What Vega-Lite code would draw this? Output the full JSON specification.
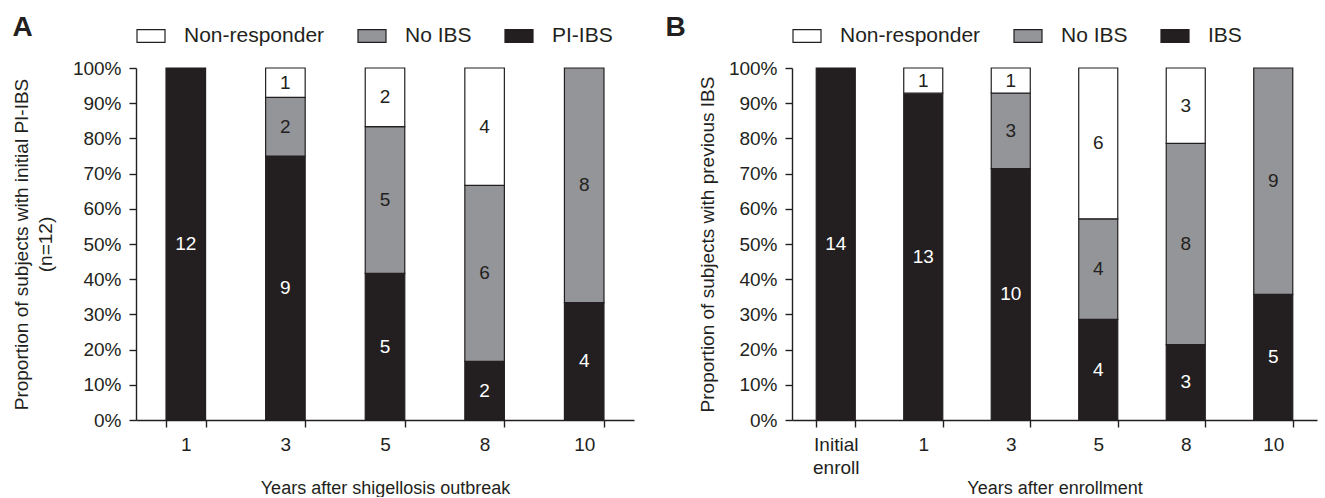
{
  "$schema": "https://vega.github.io/schema/vega-lite/v6.json",
  "background": "white",
  "padding": {"left": 12, "top": 14, "right": 5, "bottom": 0},
  "config": {
    "font": "Liberation Sans",
    "view": {"stroke": null},
    "axis": {
      "labelFont": "Liberation Sans",
      "titleFont": "Liberation Sans",
      "labelFontSize": 19,
      "titleFontSize": 19,
      "titleFontWeight": "normal",
      "labelColor": "#231f20",
      "titleColor": "#231f20",
      "domainColor": "#231f20",
      "tickColor": "#231f20",
      "domainWidth": 1.4,
      "tickWidth": 1.4,
      "tickSize": 7,
      "labelPadding": 8,
      "labelOverlap": false,
      "grid": false
    },
    "legend": {
      "labelFont": "Liberation Sans",
      "labelFontSize": 21,
      "labelColor": "#231f20",
      "symbolType": "M-1,-0.46H1V0.46H-1Z",
      "symbolSize": 784,
      "symbolStrokeColor": "#231f20",
      "symbolStrokeWidth": 1.2,
      "symbolOpacity": 1,
      "labelOffset": 18,
      "columnPadding": 30,
      "padding": 0,
      "title": null
    },
    "title": {
      "fontSize": 28,
      "fontWeight": "bold",
      "font": "Liberation Sans",
      "anchor": "start",
      "frame": "bounds",
      "color": "#231f20",
      "offset": -21
    }
  },
  "datasets": {
    "A": [
      {"year": "1", "status": "PI-IBS", "n": 12, "rank": 1},
      {"year": "3", "status": "PI-IBS", "n": 9, "rank": 1},
      {"year": "3", "status": "No IBS", "n": 2, "rank": 2},
      {"year": "3", "status": "Non-responder", "n": 1, "rank": 3},
      {"year": "5", "status": "PI-IBS", "n": 5, "rank": 1},
      {"year": "5", "status": "No IBS", "n": 5, "rank": 2},
      {"year": "5", "status": "Non-responder", "n": 2, "rank": 3},
      {"year": "8", "status": "PI-IBS", "n": 2, "rank": 1},
      {"year": "8", "status": "No IBS", "n": 6, "rank": 2},
      {"year": "8", "status": "Non-responder", "n": 4, "rank": 3},
      {"year": "10", "status": "PI-IBS", "n": 4, "rank": 1},
      {"year": "10", "status": "No IBS", "n": 8, "rank": 2}
    ],
    "B": [
      {"year": "Initial enroll", "status": "IBS", "n": 14, "rank": 1},
      {"year": "1", "status": "IBS", "n": 13, "rank": 1},
      {"year": "1", "status": "Non-responder", "n": 1, "rank": 3},
      {"year": "3", "status": "IBS", "n": 10, "rank": 1},
      {"year": "3", "status": "No IBS", "n": 3, "rank": 2},
      {"year": "3", "status": "Non-responder", "n": 1, "rank": 3},
      {"year": "5", "status": "IBS", "n": 4, "rank": 1},
      {"year": "5", "status": "No IBS", "n": 4, "rank": 2},
      {"year": "5", "status": "Non-responder", "n": 6, "rank": 3},
      {"year": "8", "status": "IBS", "n": 3, "rank": 1},
      {"year": "8", "status": "No IBS", "n": 8, "rank": 2},
      {"year": "8", "status": "Non-responder", "n": 3, "rank": 3},
      {"year": "10", "status": "IBS", "n": 5, "rank": 1},
      {"year": "10", "status": "No IBS", "n": 9, "rank": 2}
    ]
  },
  "resolve": {"scale": {"color": "independent", "x": "independent", "y": "independent"}, "legend": {"color": "independent"}},
  "spacing": 31,
  "hconcat": [
    {
      "title": {"text": "A"},
      "width": 498,
      "height": 352,
      "data": {"name": "A"},
      "transform": [
        {"stack": "n", "groupby": ["year"], "sort": [{"field": "rank"}], "offset": "normalize", "as": ["y0", "y1"]},
        {"calculate": "(datum.y0 + datum.y1) / 2", "as": "ymid"}
      ],
      "layer": [
        {
          "mark": {"type": "bar", "stroke": "#231f20", "strokeWidth": 1.2},
          "encoding": {
            "x": {
              "field": "year", "type": "ordinal", "sort": ["1", "3", "5", "8", "10"],
              "scale": {"paddingInner": 0.603, "paddingOuter": 0.3015},
              "axis": {"title": "Years after shigellosis outbreak", "titleFontSize": 18, "labelAngle": 0, "tickBand": "extent", "titlePadding": 25}
            },
            "y": {
              "field": "y0", "type": "quantitative", "scale": {"domain": [0, 1]},
              "axis": {"title": ["Proportion of subjects with initial PI-IBS", "(n=12)"], "titleLineHeight": 24, "format": ".0%", "values": [0, 0.1, 0.2, 0.3, 0.4, 0.5, 0.6, 0.7, 0.8, 0.9, 1], "tickCount": 30, "labelOverlap": false, "titlePadding": 17}
            },
            "y2": {"field": "y1"},
            "color": {
              "field": "status", "type": "nominal",
              "scale": {"domain": ["Non-responder", "No IBS", "PI-IBS"], "range": ["#ffffff", "#939598", "#231f20"]},
              "legend": {"orient": "top", "direction": "horizontal", "offset": 22}
            }
          }
        },
        {
          "mark": {"type": "text", "fontSize": 19, "font": "Liberation Sans"},
          "encoding": {
            "x": {
              "field": "year", "type": "ordinal", "sort": ["1", "3", "5", "8", "10"],
              "axis": {"title": "Years after shigellosis outbreak", "titleFontSize": 18, "labelAngle": 0, "tickBand": "extent", "titlePadding": 25}
            },
            "y": {
              "field": "ymid", "type": "quantitative",
              "axis": {"title": ["Proportion of subjects with initial PI-IBS", "(n=12)"], "titleLineHeight": 24, "format": ".0%", "values": [0, 0.1, 0.2, 0.3, 0.4, 0.5, 0.6, 0.7, 0.8, 0.9, 1], "tickCount": 30, "labelOverlap": false, "titlePadding": 17}
            },
            "text": {"field": "n"},
            "color": {"condition": {"test": "datum.rank == 1", "value": "#ffffff"}, "value": "#231f20"}
          }
        }
      ]
    },
    {
      "title": {"text": "B", "dx": -33},
      "width": 525,
      "height": 352,
      "data": {"name": "B"},
      "transform": [
        {"stack": "n", "groupby": ["year"], "sort": [{"field": "rank"}], "offset": "normalize", "as": ["y0", "y1"]},
        {"calculate": "(datum.y0 + datum.y1) / 2", "as": "ymid"}
      ],
      "layer": [
        {
          "mark": {"type": "bar", "stroke": "#231f20", "strokeWidth": 1.2},
          "encoding": {
            "x": {
              "field": "year", "type": "ordinal", "sort": ["Initial enroll", "1", "3", "5", "8", "10"],
              "scale": {"paddingInner": 0.554, "paddingOuter": 0.277},
              "axis": {"title": "Years after enrollment", "titleFontSize": 18, "labelAngle": 0, "tickBand": "extent", "labelLineHeight": 23, "titlePadding": 2, "labelExpr": "datum.value == 'Initial enroll' ? ['Initial', 'enroll'] : datum.label"}
            },
            "y": {
              "field": "y0", "type": "quantitative", "scale": {"domain": [0, 1]},
              "axis": {"title": "Proportion of subjects with previous IBS", "format": ".0%", "values": [0, 0.1, 0.2, 0.3, 0.4, 0.5, 0.6, 0.7, 0.8, 0.9, 1], "tickCount": 30, "labelOverlap": false, "titlePadding": 11}
            },
            "y2": {"field": "y1"},
            "color": {
              "field": "status", "type": "nominal",
              "scale": {"domain": ["Non-responder", "No IBS", "IBS"], "range": ["#ffffff", "#939598", "#231f20"]},
              "legend": {"orient": "top", "direction": "horizontal", "offset": 22}
            }
          }
        },
        {
          "mark": {"type": "text", "fontSize": 19, "font": "Liberation Sans"},
          "encoding": {
            "x": {
              "field": "year", "type": "ordinal", "sort": ["Initial enroll", "1", "3", "5", "8", "10"],
              "axis": {"title": "Years after enrollment", "titleFontSize": 18, "labelAngle": 0, "tickBand": "extent", "labelLineHeight": 23, "titlePadding": 2, "labelExpr": "datum.value == 'Initial enroll' ? ['Initial', 'enroll'] : datum.label"}
            },
            "y": {
              "field": "ymid", "type": "quantitative",
              "axis": {"title": "Proportion of subjects with previous IBS", "format": ".0%", "values": [0, 0.1, 0.2, 0.3, 0.4, 0.5, 0.6, 0.7, 0.8, 0.9, 1], "tickCount": 30, "labelOverlap": false, "titlePadding": 11}
            },
            "text": {"field": "n"},
            "color": {"condition": {"test": "datum.rank == 1", "value": "#ffffff"}, "value": "#231f20"}
          }
        }
      ]
    }
  ]
}
